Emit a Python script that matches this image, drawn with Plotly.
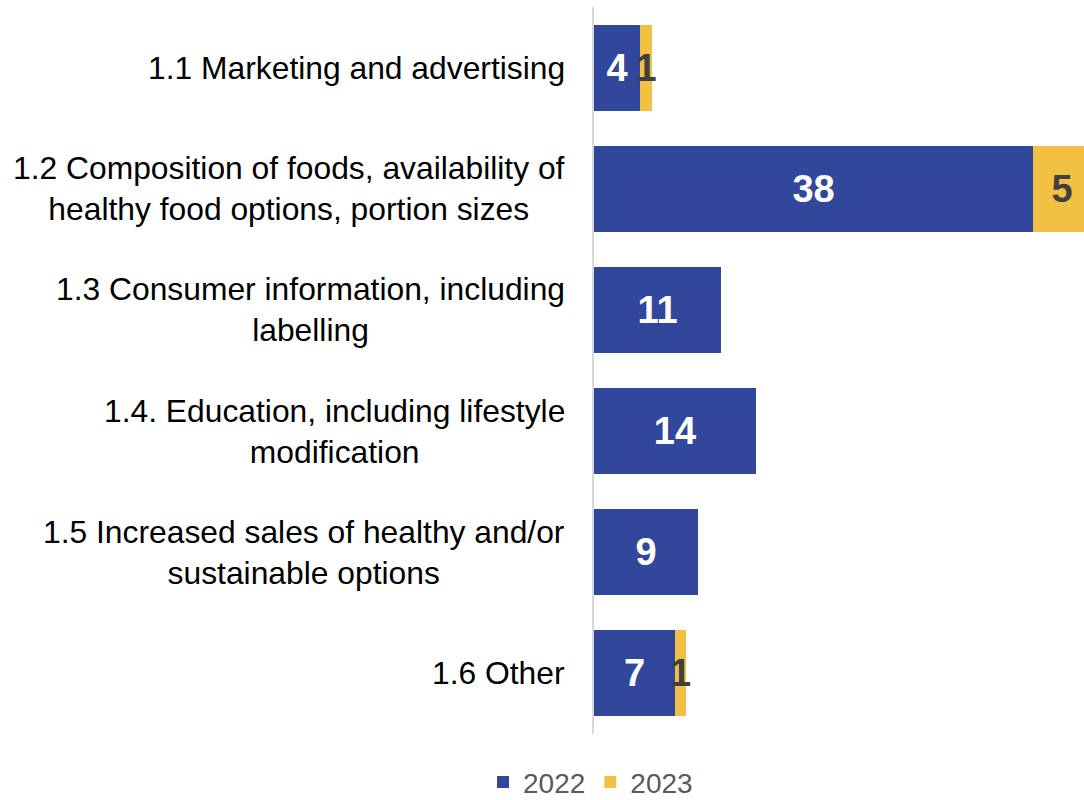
import plotly.graph_objects as go

categories = [
    "1.1 Marketing and advertising",
    "1.2 Composition of foods, availability of<br>healthy food options, portion sizes",
    "1.3 Consumer information, including<br>labelling",
    "1.4. Education, including lifestyle<br>modification",
    "1.5 Increased sales of healthy and/or<br>sustainable options",
    "1.6 Other",
]
values_2022 = [4, 38, 11, 14, 9, 7]
values_2023 = [1, 5, 0, 0, 0, 1]

FONT = "Liberation Sans, Arial, sans-serif"
BLUE = "#31479C"
YELLOW = "#F2C143"

ids = [f"c{i}" for i in range(len(categories))]

fig = go.Figure()
fig.add_trace(go.Bar(
    y=ids, x=values_2022, orientation="h", name="2022",
    marker=dict(color=BLUE, line=dict(width=0)),
    width=0.71,
    text=[str(v) if v else "" for v in values_2022],
    textposition="inside", insidetextanchor="middle", textangle=0,
    constraintext="none",
    textfont=dict(family=FONT, size=38, color="white", weight="bold"),
))
fig.add_trace(go.Bar(
    y=ids, x=values_2023, orientation="h", name="2023",
    marker=dict(color=YELLOW, line=dict(width=0)),
    width=0.71,
    text=[str(v) if v else "" for v in values_2023],
    textposition="inside", insidetextanchor="middle", textangle=0,
    constraintext="none",
    textfont=dict(family=FONT, size=38, color="#404040", weight="bold"),
))

for cid, label in zip(ids, categories):
    fig.add_annotation(
        x=0, xref="paper", y=cid, yref="y",
        text=label, showarrow=False, xanchor="right", yanchor="middle",
        align="center", xshift=-27,
        font=dict(family=FONT, size=31.8, color="#000000"),
    )

fig.update_layout(
    barmode="stack",
    width=1084, height=800,
    margin=dict(l=594, r=0, t=7, b=66),
    plot_bgcolor="white", paper_bgcolor="white",
    font=dict(family=FONT),
    showlegend=True,
    legend=dict(
        orientation="h", x=-0.2265, xanchor="left",
        y=0.022, yref="container", yanchor="middle",
        traceorder="normal",
        font=dict(family=FONT, size=28, color="#595959"),
        itemclick=False,
    ),
    bargap=0.29,
)
fig.update_xaxes(range=[0, 42.4], visible=False, fixedrange=True)
fig.update_yaxes(
    categoryorder="array", categoryarray=ids, autorange="reversed",
    showticklabels=False, ticks="", showgrid=False, zeroline=False,
    showline=True, linecolor="#D9D9D9", linewidth=2, fixedrange=True,
)

fig.write_html(
    "out.html",
    config={"displayModeBar": False},
    post_script="document.body.style.margin='0';document.documentElement.style.overflow='hidden';",
)
